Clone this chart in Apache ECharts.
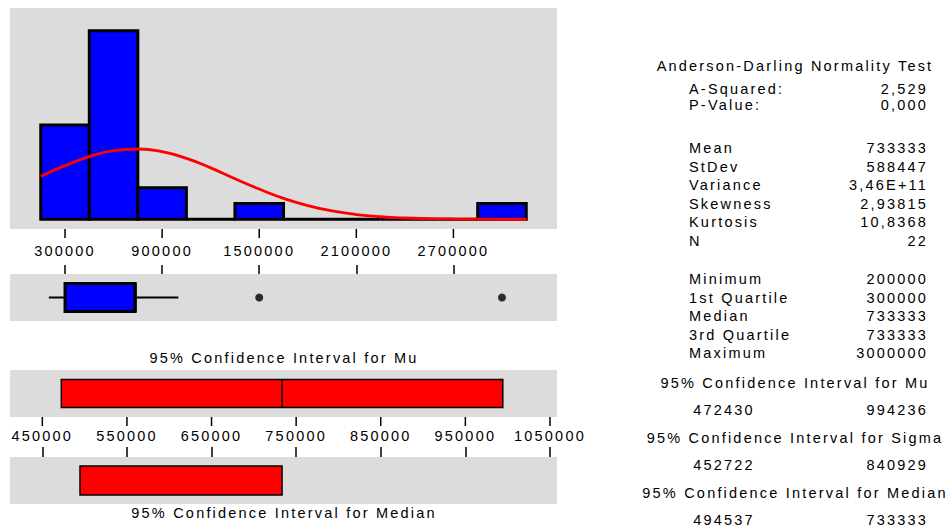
<!DOCTYPE html>
<html>
<head>
    <meta charset="UTF-8">
    <title>Descriptive Statistics</title>
    <script src="https://cdn.jsdelivr.net/npm/echarts/dist/echarts.min.js"></script>
    <style>
        html, body { margin: 0; padding: 0; background: #fff; }
        #main { width: 949px; height: 532px; }
        #main svg text { letter-spacing: 2.2px; }
    </style>
</head>
<body>
    <div id="main"></div>

    <script>
        // ========== data ==========
        const binCenters = [300000, 600000, 900000, 1200000, 1500000, 1800000, 2100000, 2400000, 2700000, 3000000];
        const binCounts = [6, 12, 2, 0, 1, 0, 0, 0, 0, 1];
        const binWidth = 300000;

        // fitted normal curve (counts)
        const curveX = [150000, 300000, 450000, 600000, 750000, 900000, 1050000, 1200000, 1350000, 1500000,
                        1650000, 1800000, 1950000, 2100000, 2250000, 2400000, 2550000, 2700000, 2850000, 3000000, 3150000];
        const curveY = [2.74, 3.41, 3.99, 4.36, 4.47, 4.30, 3.87, 3.27, 2.58, 1.92,
                        1.33, 0.87, 0.53, 0.30, 0.16, 0.08, 0.04, 0.02, 0.01, 0.00, 0.00];

        const histTicks = [300000, 900000, 1500000, 2100000, 2700000];

        const boxStats = [200000, 300000, 733333, 733333, 1000000]; // low whisker, Q1, median, Q3, high whisker
        const outliers = [1500000, 3000000];

        const ciTicks = [450000, 550000, 650000, 750000, 850000, 950000, 1050000];
        const ciMu = [472430, 733333, 994236];
        const ciMedian = [494537, 733333];

        const testNames = ['A-Squared:', 'P-Value:'];
        const testValues = ['2,529', '0,000'];
        const momentNames = ['Mean', 'StDev', 'Variance', 'Skewness', 'Kurtosis', 'N'];
        const momentValues = ['733333', '588447', '3,46E+11', '2,93815', '10,8368', '22'];
        const orderNames = ['Minimum', '1st Quartile', 'Median', '3rd Quartile', 'Maximum'];
        const orderValues = ['200000', '300000', '733333', '733333', '3000000'];
        const ciNames = ['95% Confidence Interval for Mu', '95% Confidence Interval for Sigma', '95% Confidence Interval for Median'];
        const ciLows = ['472430', '452722', '494537'];
        const ciHighs = ['994236', '840929', '733333'];
        // ==========================

        const FONT = '14.5px "Liberation Sans", Arial, sans-serif';
        const panel = '#dcdcdc';

        function txt(text, x, y, align) {
            return {
                type: 'text', x: x, y: y, silent: true,
                style: { text: text, font: FONT, fill: '#000', textAlign: align || 'left', textVerticalAlign: 'middle' }
            };
        }

        // right-hand text panel
        const graphics = [];
        graphics.push(txt('Anderson-Darling Normality Test', 795, 66, 'center'));
        testNames.forEach((n, i) => {
            graphics.push(txt(n, 689, 89 + i * 16));
            graphics.push(txt(testValues[i], 928, 89 + i * 16, 'right'));
        });
        momentNames.forEach((n, i) => {
            graphics.push(txt(n, 689, 148 + i * 18.6));
            graphics.push(txt(momentValues[i], 928, 148 + i * 18.6, 'right'));
        });
        orderNames.forEach((n, i) => {
            graphics.push(txt(n, 689, 279 + i * 18.6));
            graphics.push(txt(orderValues[i], 928, 279 + i * 18.6, 'right'));
        });
        ciNames.forEach((n, i) => {
            graphics.push(txt(n, 795, 383 + i * 55, 'center'));
            graphics.push(txt(ciLows[i], 724, 410 + i * 55, 'center'));
            graphics.push(txt(ciHighs[i], 928, 410 + i * 55, 'right'));
        });
        // titles of the left-hand interval panels
        graphics.push(txt(ciNames[0], 284, 358, 'center'));
        graphics.push(txt(ciNames[2], 284, 513, 'center'));

        const gridBase = { left: 10, width: 547, show: true, backgroundColor: panel, borderWidth: 0 };
        const tickStyle = { color: '#000', width: 1.5 };
        const plain = v => String(v);

        function tickAxis(grid, min, max, ticks, tickLen) {
            return {
                gridIndex: grid, type: 'value', min: min, max: max, position: 'top',
                axisLine: { show: false, onZero: false }, splitLine: { show: false },
                axisTick: { show: true, inside: false, customValues: ticks, length: tickLen, lineStyle: tickStyle },
                axisLabel: { show: false }
            };
        }
        function labelAxis(grid, min, max, ticks, margin) {
            return {
                gridIndex: grid, type: 'value', min: min, max: max, position: 'bottom',
                axisLine: { show: false, onZero: false }, splitLine: { show: false },
                axisTick: { show: false },
                axisLabel: { show: true, customValues: ticks, margin: margin, color: '#000', fontSize: 14.5, formatter: plain }
            };
        }

        const chart = echarts.init(document.getElementById('main'), null, { renderer: 'svg' });
        const option = {
            animation: false,
            textStyle: { fontFamily: '"Liberation Sans", Arial, sans-serif' },
            grid: [
                Object.assign({ top: 8, height: 221 }, gridBase),
                Object.assign({ top: 274, height: 47 }, gridBase),
                Object.assign({ top: 370, height: 47 }, gridBase),
                Object.assign({ top: 457, height: 47 }, gridBase)
            ],
            xAxis: [
                labelAxis(0, -40000, 3340000, histTicks, 14),
                tickAxis(1, -40000, 3340000, histTicks, 9),
                labelAxis(2, 411800, 1058300, ciTicks, 11),
                tickAxis(3, 411800, 1058300, ciTicks, 10)
            ],
            yAxis: [
                { gridIndex: 0, type: 'value', min: -0.62, max: 13.44, show: false },
                { gridIndex: 1, type: 'value', min: 0, max: 1, show: false },
                { gridIndex: 2, type: 'value', min: 0, max: 1, show: false },
                { gridIndex: 3, type: 'value', min: 0, max: 1, show: false }
            ],
            graphic: graphics,
            series: [
                {
                    // histogram
                    type: 'custom', xAxisIndex: 0, yAxisIndex: 0,
                    data: binCenters.map((c, i) => [c, binCounts[i]]),
                    renderItem: function (params, api) {
                        const c = api.value(0), n = api.value(1);
                        const p0 = api.coord([c - binWidth / 2, n]);
                        const p1 = api.coord([c + binWidth / 2, 0]);
                        if (n === 0) {
                            return { type: 'line', shape: { x1: p0[0], y1: p1[1], x2: p1[0], y2: p1[1] },
                                     style: { stroke: '#000', lineWidth: 3 } };
                        }
                        return {
                            type: 'rect',
                            shape: { x: p0[0], y: p0[1], width: p1[0] - p0[0], height: p1[1] - p0[1] },
                            style: { fill: '#0000ff', stroke: '#000', lineWidth: 3 }
                        };
                    }
                },
                {
                    type: 'line', xAxisIndex: 0, yAxisIndex: 0, smooth: true, showSymbol: false,
                    data: curveX.map((x, i) => [x, curveY[i]]),
                    lineStyle: { color: '#ff0000', width: 2.8 }
                },
                {
                    // box plot
                    type: 'custom', xAxisIndex: 1, yAxisIndex: 1,
                    data: [boxStats.concat([0.5])],
                    renderItem: function (params, api) {
                        const y = api.coord([0, api.value(5)])[1];
                        const lo = api.coord([api.value(0), 0])[0];
                        const q1 = api.coord([api.value(1), 0])[0];
                        const med = api.coord([api.value(2), 0])[0];
                        const q3 = api.coord([api.value(3), 0])[0];
                        const hi = api.coord([api.value(4), 0])[0];
                        const h = 14;
                        const ls = { stroke: '#000', lineWidth: 2 };
                        return {
                            type: 'group',
                            children: [
                                { type: 'line', shape: { x1: lo, y1: y, x2: q1, y2: y }, style: ls },
                                { type: 'line', shape: { x1: q3, y1: y, x2: hi, y2: y }, style: ls },
                                { type: 'rect', shape: { x: q1, y: y - h, width: q3 - q1, height: 2 * h },
                                  style: { fill: '#0000ff', stroke: '#000', lineWidth: 3 } },
                                { type: 'line', shape: { x1: med, y1: y - h, x2: med, y2: y + h }, style: { stroke: '#000', lineWidth: 3 } }
                            ]
                        };
                    }
                },
                {
                    type: 'scatter', xAxisIndex: 1, yAxisIndex: 1, symbolSize: 8,
                    data: outliers.map(v => [v, 0.5]),
                    itemStyle: { color: '#000' }
                },
                {
                    // CI for mu
                    type: 'custom', xAxisIndex: 2, yAxisIndex: 2,
                    data: [[ciMu[0], ciMu[2], ciMu[1], 0.5]],
                    renderItem: function (params, api) {
                        const y = api.coord([0, api.value(3)])[1];
                        const a = api.coord([api.value(0), 0])[0];
                        const b = api.coord([api.value(1), 0])[0];
                        const m = api.coord([api.value(2), 0])[0];
                        const h = 14;
                        return {
                            type: 'group',
                            children: [
                                { type: 'rect', shape: { x: a, y: y - h, width: b - a, height: 2 * h },
                                  style: { fill: '#ff0000', stroke: '#000', lineWidth: 1.5 } },
                                { type: 'line', shape: { x1: m, y1: y - h, x2: m, y2: y + h }, style: { stroke: '#000', lineWidth: 1.5 } }
                            ]
                        };
                    }
                },
                {
                    // CI for median
                    type: 'custom', xAxisIndex: 3, yAxisIndex: 3,
                    data: [[ciMedian[0], ciMedian[1], 0.5]],
                    renderItem: function (params, api) {
                        const y = api.coord([0, api.value(2)])[1];
                        const a = api.coord([api.value(0), 0])[0];
                        const b = api.coord([api.value(1), 0])[0];
                        const h = 14.5;
                        return {
                            type: 'rect', shape: { x: a, y: y - h, width: b - a, height: 2 * h },
                            style: { fill: '#ff0000', stroke: '#000', lineWidth: 1.5 }
                        };
                    }
                }
            ]
        };

        chart.setOption(option);

        // tick marks hanging under the histogram and the Mu panel, placed with the axes' own scales
        function hangingTicks(axisIndex, ticks, y0, len) {
            return ticks.map(v => {
                const x = chart.convertToPixel({ xAxisIndex: axisIndex }, v);
                return { type: 'line', silent: true, shape: { x1: x, y1: y0, x2: x, y2: y0 + len },
                         style: { stroke: '#000', lineWidth: 1.5 } };
            });
        }
        chart.setOption({
            graphic: graphics
                .concat(hangingTicks(0, histTicks, 229, 9))
                .concat(hangingTicks(2, ciTicks, 417, 9))
        });
    </script>
</body>
</html>
